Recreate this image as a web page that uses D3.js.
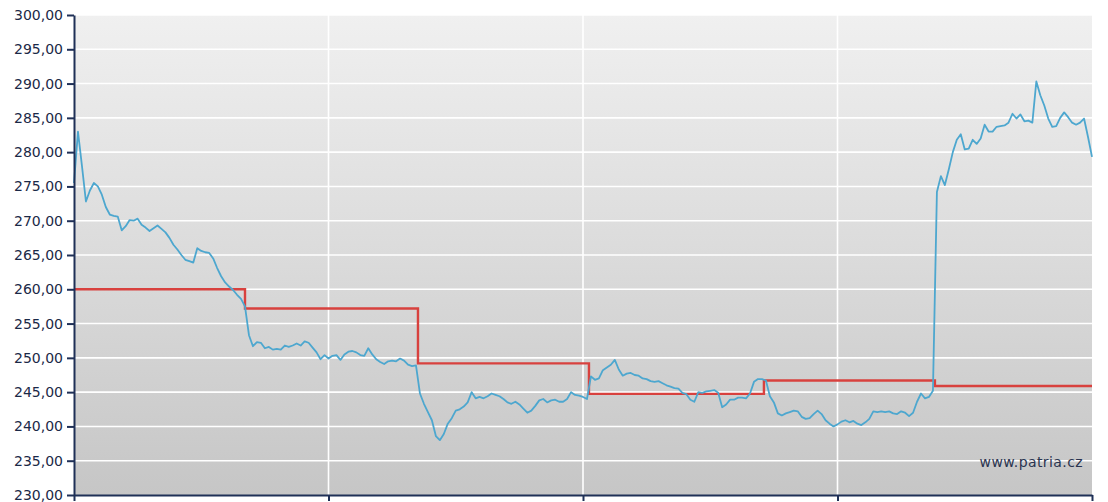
<!DOCTYPE html>
<html>
<head>
<meta charset="utf-8">
<script src="https://cdn.jsdelivr.net/npm/d3@7"></script>
<style>
  html, body { margin: 0; padding: 0; background: #ffffff; }
  svg { display: block; }
</style>
</head>
<body>
<svg id="chart" width="1108" height="502"></svg>
<script>
// ---- DATA ----
// Price series (blue), equally spaced observations
const priceValues = [
  275.5, 283.0, 278.0, 272.8, 274.4, 275.5, 275.0, 273.8, 272.0, 270.9,
  270.7, 270.6, 268.6, 269.2, 270.1, 270.0, 270.3, 269.4, 269.0, 268.5,
  268.9, 269.3, 268.8, 268.3, 267.5, 266.5, 265.8, 265.0, 264.3, 264.1,
  263.9, 266.0, 265.6, 265.4, 265.3, 264.5, 263.1, 261.9, 261.0, 260.4,
  259.9, 259.2, 258.6, 257.5, 253.3, 251.7, 252.3, 252.2, 251.4, 251.6,
  251.2, 251.3, 251.2, 251.8, 251.6, 251.8, 252.1, 251.8, 252.4, 252.2,
  251.5, 250.8, 249.8, 250.4, 249.9, 250.3, 250.4, 249.7, 250.5, 250.9,
  251.0, 250.8, 250.4, 250.3, 251.4, 250.5, 249.8, 249.4, 249.1, 249.5,
  249.6, 249.5, 249.9, 249.6, 249.0, 248.8, 248.9, 244.8, 243.3, 242.1,
  240.9, 238.6, 238.0, 238.9, 240.4, 241.2, 242.3, 242.5, 242.9, 243.5,
  245.0, 244.1, 244.3, 244.1, 244.4, 244.8, 244.6, 244.4, 244.0, 243.5,
  243.3, 243.6, 243.2, 242.6, 242.0, 242.3, 243.0, 243.8, 244.0, 243.5,
  243.8, 243.9, 243.6, 243.6, 244.0, 245.0, 244.6, 244.5, 244.3, 244.0,
  247.3, 246.8, 247.0, 248.2, 248.6, 249.0, 249.7, 248.3, 247.4, 247.7,
  247.8, 247.5, 247.4, 247.0, 246.9, 246.6, 246.5, 246.6, 246.3, 246.0,
  245.8, 245.6, 245.5, 244.9, 244.7, 243.9, 243.6, 245.0, 244.9, 245.1,
  245.2, 245.3, 244.9, 242.8, 243.2, 243.9, 243.9, 244.2, 244.2, 244.1,
  244.8, 246.5, 246.9, 246.9, 246.7, 244.4, 243.5, 241.9, 241.6, 241.9,
  242.1, 242.3, 242.2, 241.4, 241.1, 241.2, 241.8, 242.3, 241.8, 240.9,
  240.4, 240.0, 240.3, 240.7, 240.9, 240.6, 240.8, 240.4, 240.2, 240.6,
  241.1, 242.2, 242.1, 242.2, 242.1, 242.2, 241.9, 241.8, 242.2, 242.0,
  241.5, 242.0, 243.6, 244.8, 244.1, 244.3, 245.2, 274.2, 276.5, 275.2,
  277.5, 280.0, 281.8, 282.6, 280.4, 280.5, 281.8, 281.2, 282.0, 284.0,
  283.0, 283.0, 283.7, 283.8, 283.9, 284.3, 285.6, 284.9, 285.5, 284.5,
  284.6, 284.3, 290.3, 288.3, 286.8, 284.9, 283.7, 283.8, 285.0, 285.8,
  285.1, 284.3, 284.0, 284.3, 284.9, 282.2, 279.3
];

// Reference level (red step line): start index of each level and its value
const levelStarts = [0, 43, 86.5, 129.5, 173.5, 216.5];
const levelValues = [260.0, 257.2, 249.2, 244.75, 246.7, 245.9];

// Axis ticks
const yTicks = [230, 235, 240, 245, 250, 255, 260, 265, 270, 275, 280, 285, 290, 295, 300];
const xTicks = [0, 64, 128, 192, 256];
const xTickLabels = ["", "", "", "", ""];
const watermark = "www.patria.cz";

// ---- LAYOUT ----
const margin = { left: 74, top: 15, right: 16, bottom: 7 };
const W = 1108, H = 502;
const svg = d3.select("#chart");

const x = d3.scaleLinear()
  .domain([0, priceValues.length - 1])
  .range([margin.left, W - margin.right]);
const y = d3.scaleLinear()
  .domain([230, 300])
  .range([H - margin.bottom, margin.top]);

const plotL = x.range()[0], plotR = x.range()[1];
const plotT = y.range()[1], plotB = y.range()[0];

// background gradient
const defs = svg.append("defs");
const grad = defs.append("linearGradient")
  .attr("id", "bg").attr("x1", 0).attr("y1", 0).attr("x2", 0).attr("y2", 1);
grad.append("stop").attr("offset", "0%").attr("stop-color", "#f0f0f0");
grad.append("stop").attr("offset", "100%").attr("stop-color", "#c6c6c6");

svg.append("rect")
  .attr("x", plotL).attr("y", plotT)
  .attr("width", plotR - plotL).attr("height", plotB - plotT)
  .attr("fill", "url(#bg)");

// grid
const grid = svg.append("g");
grid.selectAll("line.h").data(yTicks.filter(d => d > 230)).enter().append("line")
  .attr("class", "h")
  .attr("x1", plotL).attr("x2", plotR)
  .attr("y1", d => y(d)).attr("y2", d => y(d))
  .attr("stroke", "#ffffff").attr("stroke-width", 1.6);
grid.selectAll("line.v").data(xTicks.slice(1, -1)).enter().append("line")
  .attr("class", "v")
  .attr("x1", d => x(d)).attr("x2", d => x(d))
  .attr("y1", plotT).attr("y2", plotB)
  .attr("stroke", "#ffffff").attr("stroke-width", 1.6);

// watermark
svg.append("text")
  .attr("x", 1083).attr("y", 467)
  .attr("text-anchor", "end")
  .attr("font-family", "DejaVu Sans, Verdana, sans-serif")
  .attr("font-size", "14px")
  .attr("letter-spacing", "0.4px")
  .attr("fill", "#2a3450")
  .text(watermark);

// red step line
const levelPts = levelStarts.map((s, i) => [s, levelValues[i]]);
levelPts.push([priceValues.length - 1, levelValues[levelValues.length - 1]]);
svg.append("path")
  .datum(levelPts)
  .attr("fill", "none")
  .attr("stroke", "#d8413e")
  .attr("stroke-width", 2.4)
  .attr("d", d3.line().x(d => x(d[0])).y(d => y(d[1])).curve(d3.curveStepAfter));

// blue price line
svg.append("path")
  .datum(priceValues)
  .attr("fill", "none")
  .attr("stroke", "#4da7cf")
  .attr("stroke-width", 1.8)
  .attr("stroke-linejoin", "round")
  .attr("d", d3.line().x((d, i) => x(i)).y(d => y(d)));

// axes
const axisColor = "#1f3057";
const fmt = d => d.toFixed(2).replace(".", ",");

const yAxis = svg.append("g")
  .attr("transform", `translate(${plotL},0)`)
  .call(d3.axisLeft(y).tickValues(yTicks).tickFormat(fmt).tickSize(7).tickSizeOuter(0).tickPadding(4));
yAxis.select(".domain").attr("stroke", axisColor).attr("stroke-width", 2);
yAxis.selectAll(".tick line").attr("stroke", axisColor).attr("stroke-width", 2);
yAxis.selectAll(".tick text")
  .attr("fill", "#1b2947")
  .attr("font-family", "DejaVu Sans, Verdana, sans-serif")
  .attr("font-size", "14px");

const xAxis = svg.append("g")
  .attr("transform", `translate(0,${plotB})`)
  .call(d3.axisBottom(x).tickValues(xTicks).tickFormat((d, i) => xTickLabels[i]).tickSize(6).tickSizeOuter(0));
xAxis.select(".domain").attr("stroke", axisColor).attr("stroke-width", 2);
xAxis.selectAll(".tick line").attr("stroke", axisColor).attr("stroke-width", 2);
</script>
</body>
</html>
